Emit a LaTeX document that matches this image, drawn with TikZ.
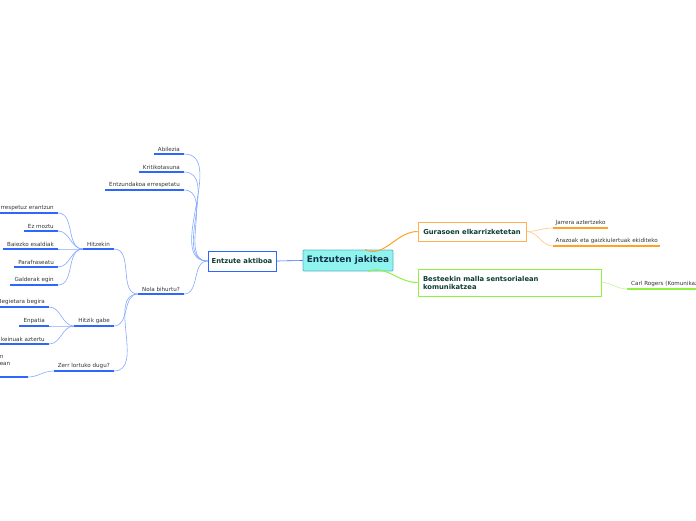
\documentclass[tikz,border=0pt]{standalone}
\usepackage{fontspec}
\setmainfont{DejaVu Sans}
\usetikzlibrary{calc}
\definecolor{rootfill}{HTML}{8FF3EE}
\definecolor{rootline}{HTML}{5BB4C9}
\definecolor{rootink}{HTML}{13304B}
\definecolor{topicink}{HTML}{0E3D33}
\definecolor{leafink}{HTML}{333333}
\definecolor{bluebar}{HTML}{2F66FF}
\definecolor{bluecurve}{HTML}{86A8FF}
\definecolor{orangebar}{HTML}{FFA22B}
\definecolor{orangecurve}{HTML}{FFC57F}
\definecolor{greenbar}{HTML}{8FF23C}
\definecolor{greencurve}{HTML}{BDF59A}

\begin{document}
\begin{tikzpicture}[x=1pt, y=-1pt,
    topic/.style={draw, line width=0.9pt, fill=white, text=topicink, inner sep=0pt,
      font=\bfseries\fontsize{6.8}{8}\selectfont},
    leaf/.style={text=leafink, inner xsep=4pt, inner ysep=2.5pt,
      font=\fontsize{5.6}{7.2}\selectfont},
    leafl/.style={leaf, anchor=south east},
    leafr/.style={leaf, anchor=south west},
    uline/.style={append after command={(\tikzlastnode.south west) edge[draw=#1, line width=1.3pt] (\tikzlastnode.south east)}},
    twig/.style={draw=#1, line width=0.6pt}]
    \useasboundingbox (0,0) rectangle (696,520);
    \clip (0,0) rectangle (696,520);

    % main topics
    \node[draw=rootline, line width=0.9pt, fill=rootfill, rounded corners=1pt, text=rootink,
      minimum width=90pt, minimum height=21pt, font=\bfseries\fontsize{8.9}{10}\selectfont]
      (central) at (348,260.5) {Entzuten jakitea};
    \node[topic, draw=bluebar, minimum width=68pt, minimum height=20pt] (aktiboa) at (242,261) {Entzute aktiboa};
    \node[topic, draw=orangebar!85, minimum width=108pt, minimum height=19pt] (gurasoen) at (472,231.5) {Gurasoen elkarrizketetan};
    \node[topic, draw=greenbar, minimum width=183pt, minimum height=27pt, text width=173pt, align=left]
      (besteekin) at (509.5,282.5) {Besteekin malla sentsorialean\\komunikatzea};

    \draw[twig=bluebar] (aktiboa.east) -- (central.west);
    \draw[orangebar, line width=1pt] ($(central.north)+(17,0)$) to[out=-25,in=180] (gurasoen.west);
    \draw[greenbar, line width=1pt] ($(central.south)+(20,0)$) to[out=20,in=180] (besteekin.west);

    % Entzute aktiboa
    \node[leafl, uline=bluebar] (abilezia) at (184,154) {Abilezia};
    \node[leafl, uline=bluebar] (kritiko) at (184,172) {Kritikotasuna};
    \node[leafl, uline=bluebar] (errespetatu) at (184,190) {Entzundakoa errespetatu};
    \node[leafl, uline=bluebar] (nola) at (184,294) {Nola bihurtu?};
    \foreach \n in {abilezia,kritiko,errespetatu,nola}
      \draw[twig=bluecurve] (\n.south east) to[out=0,in=180] (aktiboa.west);

    \node[leafl, uline=bluebar] (hitzekin) at (114,249) {Hitzekin};
    \node[leafl, uline=bluebar] (hitzikgabe) at (114,326) {Hitzik gabe};
    \node[leafl, uline=bluebar] (zerr) at (114,371) {Zerr lortuko dugu?};
    \foreach \n in {hitzekin,hitzikgabe,zerr}
      \draw[twig=bluecurve] (\n.south east) to[out=0,in=180] (nola.south west);

    \node[leafl, uline=bluebar, text width=60pt, align=right] (erantzun) at (58,213) {rrespetuz erantzun};
    \node[leafl, uline=bluebar] (moztu) at (58,231) {Ez moztu};
    \node[leafl, uline=bluebar] (baiezko) at (58,249) {Baiezko esaldiak};
    \node[leafl, uline=bluebar] (parafraseatu) at (58,267) {Parafraseatu};
    \node[leafl, uline=bluebar] (galderak) at (58,285) {Galderak egin};
    \foreach \n in {erantzun,moztu,baiezko,parafraseatu,galderak}
      \draw[twig=bluecurve] (\n.south east) to[out=0,in=180] (hitzekin.south west);

    \node[leafl, uline=bluebar, text width=50pt, align=right] (begietara) at (49,307) {Begietara begira};
    \node[leafl, uline=bluebar] (enpatia) at (49,326) {Enpatia};
    \node[leafl, uline=bluebar, text width=50pt, align=right] (keinuak) at (49,344) {keinuak aztertu};
    \foreach \n in {begietara,enpatia,keinuak}
      \draw[twig=bluecurve] (\n.south east) to[out=0,in=180] (hitzikgabe.south west);

    \node[leafl, uline=bluebar, inner xsep=0pt, text width=28pt, minimum height=32pt, align=left] (lortu) at (28,377) {n\\ean};
    \draw[twig=bluecurve] (lortu.south east) to[out=0,in=180] (zerr.south west);

    % Gurasoen elkarrizketetan
    \node[leafr, uline=orangebar, inner xsep=2.5pt] (jarrera) at (553,228) {Jarrera aztertzeko};
    \node[leafr, uline=orangebar, inner xsep=2.5pt] (arazoak) at (553,246) {Arazoak eta gaizkiulertuak ekiditeko};
    \foreach \n in {jarrera,arazoak}
      \draw[twig=orangecurve] (gurasoen.east) to[out=0,in=180] (\n.south west);

    % Besteekin malla sentsorialean komunikatzea
    \node[leafr, uline=greenbar, text width=80pt, align=left] (rogers) at (627,289) {Carl Rogers (Komunikaz};
    \draw[twig=greencurve] (besteekin.east) to[out=0,in=180] (rogers.south west);
\end{tikzpicture}
\end{document}
